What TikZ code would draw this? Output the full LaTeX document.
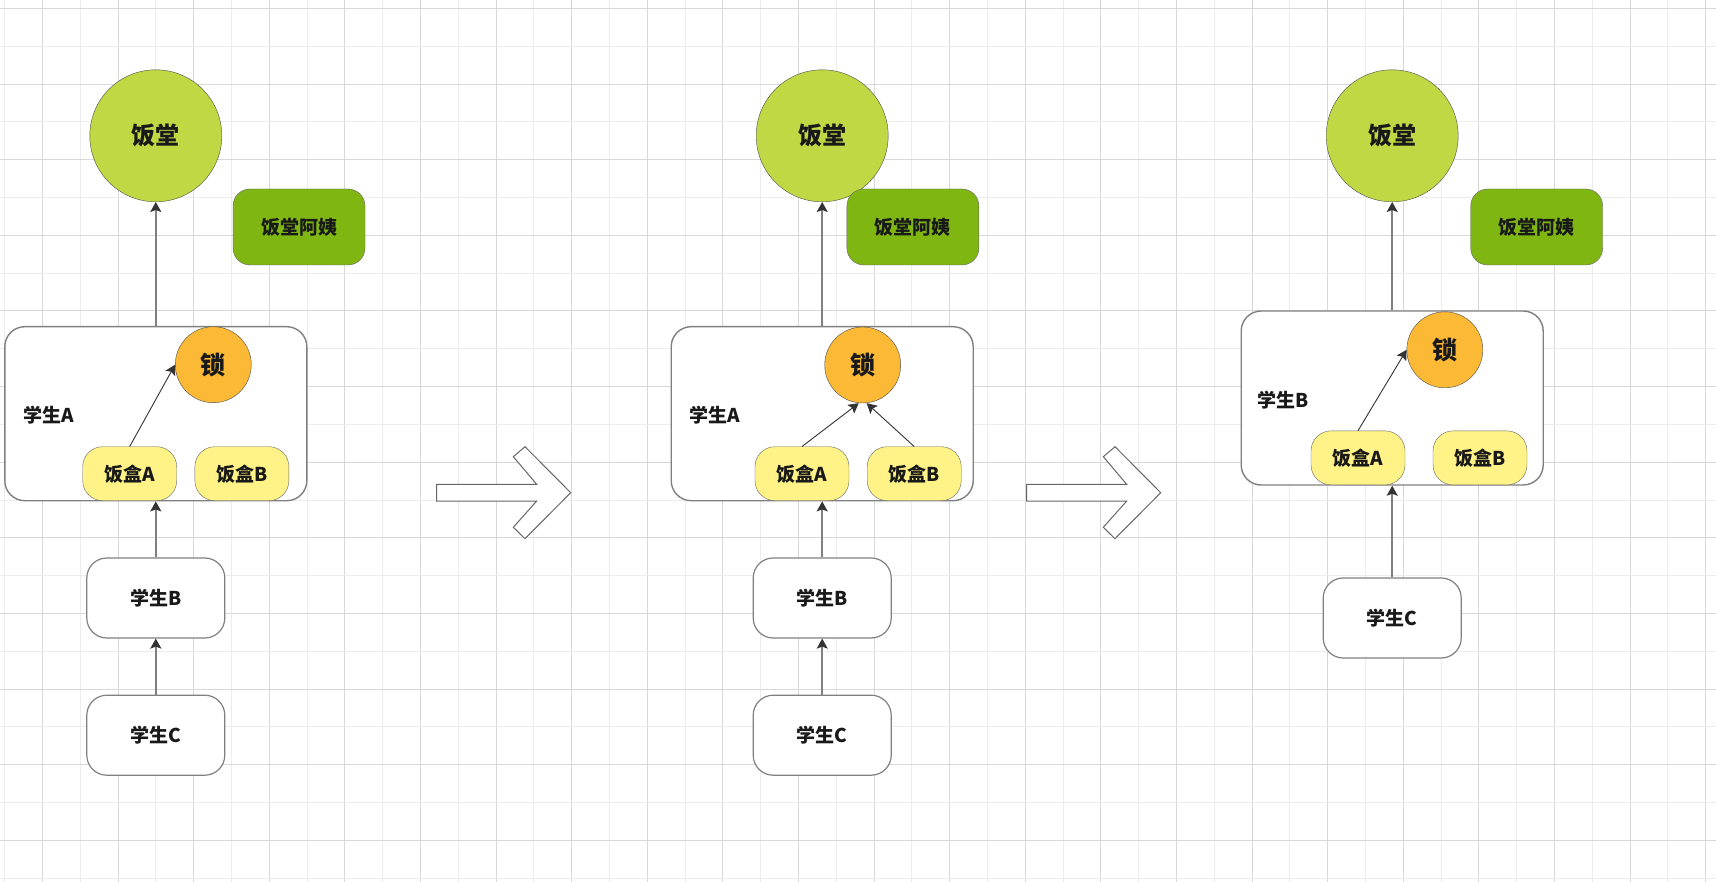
\documentclass[tikz,border=0pt]{standalone}
\usepackage{fontspec}
\setmainfont{Noto Sans CJK SC}
\usetikzlibrary{positioning,arrows.meta}
\definecolor{hallgreen}{RGB}{192,216,68}
\definecolor{auntgreen}{RGB}{127,182,18}
\definecolor{lockorange}{RGB}{252,185,53}
\definecolor{boxyellow}{RGB}{255,242,135}
\definecolor{gridmajor}{RGB}{216,216,216}
\definecolor{gridminor}{RGB}{236,236,236}
\newcommand{\txt}[1]{\bfseries\fontsize{#1}{#1}\selectfont}

\begin{document}
\begin{tikzpicture}[x=1pt, y=-1pt, every node/.style={font=\txt{19}, text=black!90},
    hall/.style={circle, draw=black!70, fill=hallgreen, minimum size=132pt, inner sep=0pt, font=\txt{24}},
    aunt/.style={rectangle, rounded corners=17pt, draw=black!60, fill=auntgreen, minimum width=132pt, minimum height=76pt},
    room/.style={rectangle, rounded corners=20pt, draw=black!50, line width=1.4pt, fill=white, minimum width=302pt, minimum height=174pt},
    lock/.style={circle, draw=black!70, fill=lockorange, minimum size=76pt, inner sep=0pt, font=\txt{25}},
    tiffin/.style={rectangle, rounded corners=20pt, draw=black!60, fill=boxyellow, minimum width=94pt, minimum height=54pt},
    student/.style={rectangle, rounded corners=20pt, draw=black!50, line width=1.2pt, fill=white, minimum width=138pt, minimum height=80pt},
    flow/.style={draw=black!50, line width=1.6pt, -{Stealth[length=10pt, width=11pt, inset=2pt, color=black!80]}},
    grab/.style={draw=black!80, line width=0.9pt, -{Stealth[length=10pt, width=11pt, inset=2pt]}},
    bigarrow/.style={draw=black!60, line width=1pt, fill=white}]
    \fill[white] (0,0) rectangle (1716,882);
    \useasboundingbox (0,0) rectangle (1716,882);
    % grid
    \foreach \i [evaluate=\i as \xx using 4.3+37.8*\i] in {0,...,45} {
        \ifodd\i \draw[gridmajor] (\xx,0) -- (\xx,882); \else \draw[gridminor] (\xx,0) -- (\xx,882); \fi
    }
    \foreach \j [evaluate=\j as \yy using 8.3+37.8*\j] in {0,...,23} {
        \ifodd\j \draw[gridminor] (0,\yy) -- (1716,\yy); \else \draw[gridmajor] (0,\yy) -- (1716,\yy); \fi
    }

    % first state
    \node[room] (stuA1) at (155.8,413.7) {};
    \node[hall, above=124pt of stuA1] (hall1) {饭堂};
    \node[aunt] (aunt1) at (299,227) {饭堂阿姨};
    \node[lock] (lock1) at (213.3,364.7) {锁};
    \node (labA1) at (48.3,415) {学生A};
    \node[tiffin] (boxA1) at (129.7,473.7) {饭盒A};
    \node[tiffin] (boxB1) at (241.9,473.7) {饭盒B};
    \node[student, below=56pt of stuA1] (stuB1) {学生B};
    \node[student, below=56pt of stuB1] (stuC1) {学生C};
    \draw[flow] (stuA1) -- (hall1);
    \draw[grab] (boxA1.north) -- (lock1.west);
    \draw[flow] (stuB1) -- (stuA1);
    \draw[flow] (stuC1) -- (stuB1);

    \draw[bigarrow, shift={(436.7,492.7)}] (0,-8.35) -- (100,-8.35) -- (76.6,-36) -- (88.3,-46) -- (134,0)
        -- (88.3,46) -- (76.6,34.6) -- (100,8.35) -- (0,8.35) -- cycle;

    % second state
    \node[room] (stuA2) at (822.2,413.7) {};
    \node[hall, above=124pt of stuA2] (hall2) {饭堂};
    \node[aunt] (aunt2) at (912.9,227) {饭堂阿姨};
    \node[lock] (lock2) at (862.7,365) {锁};
    \node (labA2) at (714.3,415) {学生A};
    \node[tiffin] (boxA2) at (802,473.7) {饭盒A};
    \node[tiffin] (boxB2) at (914.2,473.7) {饭盒B};
    \node[student, below=56pt of stuA2] (stuB2) {学生B};
    \node[student, below=56pt of stuB2] (stuC2) {学生C};
    \draw[flow] (stuA2) -- (hall2);
    \draw[grab] (boxA2.north) -- ([xshift=-4pt]lock2.south);
    \draw[grab] (boxB2.north) -- ([xshift=4pt]lock2.south);
    \draw[flow] (stuB2) -- (stuA2);
    \draw[flow] (stuC2) -- (stuB2);

    \draw[bigarrow, shift={(1026.7,492.7)}] (0,-8.35) -- (100,-8.35) -- (76.6,-36) -- (88.3,-46) -- (134,0)
        -- (88.3,46) -- (76.6,34.6) -- (100,8.35) -- (0,8.35) -- cycle;

    % third state
    \node[room] (stuB3) at (1392.2,398) {};
    \node[hall, above=108.3pt of stuB3] (hall3) {饭堂};
    \node[aunt] (aunt3) at (1536.7,227) {饭堂阿姨};
    \node[lock] (lock3) at (1444.8,349.8) {锁};
    \node (labB3) at (1283.3,400) {学生B};
    \node[tiffin] (boxA3) at (1358,457.9) {饭盒A};
    \node[tiffin] (boxB3) at (1480,457.9) {饭盒B};
    \node[student, below=91.7pt of stuB3] (stuC3) {学生C};
    \draw[flow] (stuB3) -- (hall3);
    \draw[grab] (boxA3.north) -- (lock3.west);
    \draw[flow] (stuC3) -- (stuB3);
\end{tikzpicture}
\end{document}
